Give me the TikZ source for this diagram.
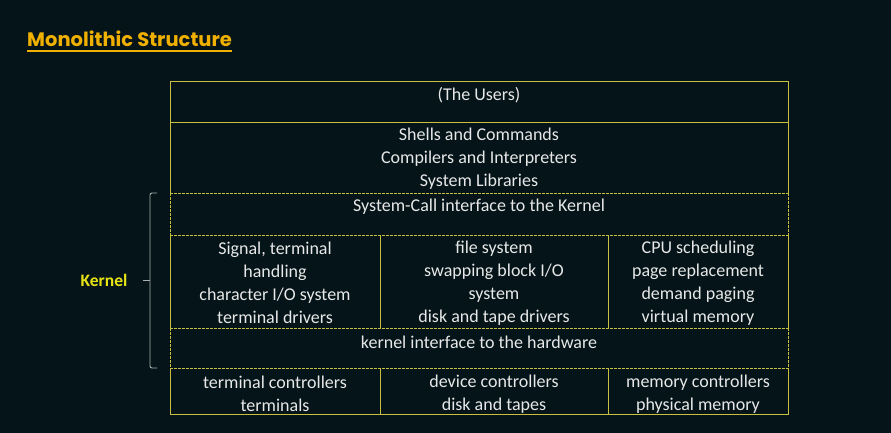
\documentclass[tikz,border=0pt]{standalone}
\usepackage{fontspec}
\setmainfont{Carlito}
\newfontfamily\titlefont{Poppins}
\definecolor{bg}{RGB}{4,20,24}
\definecolor{ln}{RGB}{200,192,64}
\definecolor{tx}{RGB}{232,232,232}
\definecolor{ttl}{RGB}{240,176,0}
\definecolor{kern}{RGB}{232,228,20}
\definecolor{bracec}{RGB}{170,176,176}
\begin{document}
\begin{tikzpicture}[x=1pt,y=-1pt,
  cell/.style={text=tx,font=\fontsize{18}{23}\selectfont,align=center,inner sep=0pt},
  solidln/.style={draw=ln,line width=0.9pt},
  dashln/.style={draw=ln,line width=0.9pt,dash pattern=on 2.6pt off 1.4pt},
  bracestyle/.style={draw=bracec,line width=0.9pt,rounded corners=2pt}]
\fill[bg] (0,0) rectangle (891,433);
\useasboundingbox (0,0) rectangle (891,433);
% title
\node[anchor=base west,inner sep=0pt,text=ttl,font=\titlefont\bfseries\fontsize{19.5}{22}\selectfont] (title) at (27,47) {Monolithic Structure};
\draw[ttl,line width=1.6pt] ([yshift=-4pt]title.base west) -- ([yshift=-4pt]title.base east);
% solid frame parts
\draw[solidln] (170,193) -- (170,81) -- (788,81) -- (788,193);
\draw[solidln] (170,122) -- (788,122);
\draw[solidln] (170,235) -- (170,328);
\draw[solidln] (788,235) -- (788,328);
\draw[solidln] (170,368) -- (170,414) -- (788,414) -- (788,368);
% dashed parts
\draw[dashln] (170,193) -- (788,193);
\draw[dashln] (170,235) -- (788,235);
\draw[dashln] (170,328) -- (788,328);
\draw[dashln] (170,368) -- (788,368);
\draw[dashln] (170,193) -- (170,235);
\draw[dashln] (788,193) -- (788,235);
\draw[dashln] (170,328) -- (170,368);
\draw[dashln] (788,328) -- (788,368);
% column dividers
\draw[solidln] (380,235) -- (380,328);
\draw[solidln] (608,235) -- (608,328);
\draw[solidln] (380,368) -- (380,414);
\draw[solidln] (608,368) -- (608,414);
% texts
\node[cell] (users) at (479,95) {(The Users)};
\node[cell] (shells) at (479,159) {Shells and Commands\\Compilers and Interpreters\\System Libraries};
\node[cell] (syscall) at (479,207) {System-Call interface to the Kernel};
\node[cell] (signal) at (275,283) {Signal, terminal\\handling\\character I/O system\\terminal drivers};
\node[cell] (filesys) at (494,283) {file system\\swapping block I/O\\system\\disk and tape drivers};
\node[cell] (cpu) at (698,283) {CPU scheduling\\page replacement\\demand paging\\virtual memory};
\node[cell] (kif) at (479,342) {kernel interface to the hardware};
\node[cell] (termc) at (275,394) {terminal controllers\\terminals};
\node[cell] (devc) at (494,394) {device controllers\\disk and tapes};
\node[cell] (memc) at (698,394) {memory controllers\\physical memory};
% kernel brace
\node[inner sep=0pt,text=kern,font=\bfseries\fontsize{17.5}{20}\selectfont] (kernel) at (104,280) {Kernel};
\coordinate (tick) at (143,280);
\draw[bracestyle] (157,193) -- (150,193) -- (150,368) -- (157,368);
\draw[draw=bracec,line width=0.9pt] (tick) -- (150,280);
\end{tikzpicture}
\end{document}
